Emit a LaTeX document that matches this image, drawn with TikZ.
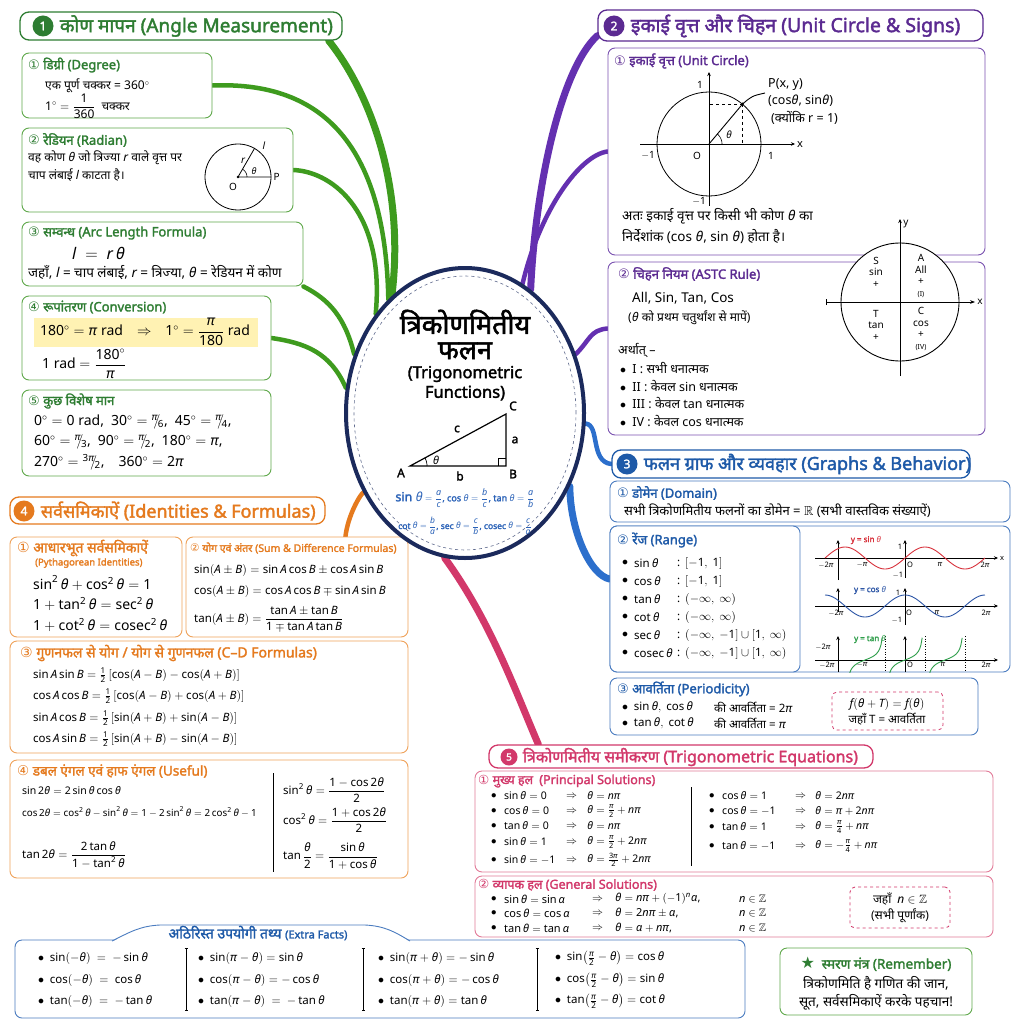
\documentclass[tikz,border=0pt]{standalone}
\usepackage{amsmath,amssymb}
\usepackage{mathspec}
\setmainfont{Noto Sans}[Script=Devanagari, AutoFakeBold=2]
\setmathsfont(Digits,Latin,Greek){Noto Sans}
\setmathrm{Noto Sans}
\newfontfamily\symfont{DejaVu Sans}
\usetikzlibrary{shapes.geometric,fit,arrows.meta,positioning,backgrounds}

\definecolor{grn}{HTML}{2E7D32}
\definecolor{grnl}{HTML}{5FA84A}
\definecolor{grnb}{HTML}{3E9B1E}
\definecolor{pur}{HTML}{5B2A91}
\definecolor{purl}{HTML}{7A52B0}
\definecolor{purb}{HTML}{6430B0}
\definecolor{blu}{HTML}{1E5AA8}
\definecolor{blul}{HTML}{4A7CC0}
\definecolor{blub}{HTML}{2C6FCC}
\definecolor{org}{HTML}{E57A1E}
\definecolor{orgl}{HTML}{EFA25A}
\definecolor{pnk}{HTML}{D2386A}
\definecolor{pnkl}{HTML}{E27A98}
\definecolor{nvy}{HTML}{1B2A5C}
\definecolor{fblu}{HTML}{2A62B8}
\definecolor{hilite}{HTML}{FFF2B3}
\definecolor{sinred}{HTML}{D8323C}
\definecolor{cosblu}{HTML}{2D56A6}
\definecolor{tangrn}{HTML}{2E9E4A}

\newcommand\cn[1]{{\mdseries\symfont #1}}
\newcommand\pif[2]{{}^{#1}\!\!/\!{}_{#2}}

\tikzset{
  titlebox/.style={draw=#1, line width=1.3pt, rounded corners=9pt, fill=white, inner sep=0pt},
  panel/.style={draw=#1, line width=0.9pt, rounded corners=7pt, fill=white, inner sep=0pt},
  badge/.style={circle, fill=#1, text=white, inner sep=0pt, minimum size=21pt, font=\bfseries\fontsize{12}{12}\selectfont},
  heading/.style={anchor=west, inner sep=0pt, font=\bfseries\fontsize{18}{20}\selectfont},
  btitle/.style={anchor=west, inner sep=0pt, font=\bfseries\fontsize{13}{15}\selectfont},
  txt/.style={anchor=west, inner sep=0pt, font=\fontsize{12}{14}\selectfont},
  eqn/.style={anchor=west, inner sep=0pt, font=\fontsize{10.5}{12}\selectfont},
  lbl/.style={inner sep=0pt, font=\fontsize{7.5}{8}\selectfont},
  limb/.style={draw=#1, line width=4.5pt, line cap=round},
  trunk/.style={draw=#1, line width=7pt, line cap=round},
  axisline/.style={line width=0.7pt, -{Stealth[length=4pt,width=3.5pt]}},
  dashbox/.style={draw=#1, dashed, line width=0.8pt, rounded corners=5pt, inner sep=0pt},
}

\begin{document}
\begin{tikzpicture}[x=1pt, y=-1pt]
\useasboundingbox (0,0) rectangle (1024,1024);

% ---------- 1 angle measurement
\node[titlebox=grn, fit={(20,12) (342,40)}] (t1) {};
\node[badge=grn] (n1) at (43,26) {1};
\node[heading, text=grn, font=\bfseries\fontsize{19}{21}\selectfont, right=6pt of n1] (h1) {कोण मापन (Angle Measurement)};

\node[panel=grnl, fit={(22,53) (212,118)}] (deg) {};
\node[btitle, text=grn] (deg-t) at (28,65) {\cn{①} डिग्री (Degree)};
\node[txt] (deg-a) at (45,86) {एक पूर्ण चक्कर = $360^\circ$};
\node[txt] (deg-b) at (45,106) {$1^\circ = \dfrac{1}{360}$\enspace चक्कर};

\node[panel=grnl, fit={(22,128) (293,212)}] (rad) {};
\node[btitle, text=grn] (rad-t) at (28,140) {\cn{②} रेडियन (Radian)};
\node[txt] (rad-a) at (28,158) {वह कोण $\theta$ जो त्रिज्या $r$ वाले वृत्त पर};
\node[txt] (rad-b) at (28,175) {चाप लंबाई $l$ काटता है।};
\node[circle, draw, minimum size=66pt, inner sep=0pt, line width=0.8pt] (rc) at (238,177) {};
\draw[line width=0.8pt] (rc.east) -- (rc.center) -- (rc.60);
\draw[line width=0.6pt] plot[domain=0:60, samples=12] ({238+9*cos(\x)}, {177-9*sin(\x)});
\fill (rc.center) circle[radius=1.3pt];
\node[lbl, font=\fontsize{10}{11}\selectfont] (rc-o) at (233,187) {O};
\node[lbl, font=\fontsize{10}{11}\selectfont, right=2pt of rc.east] (rc-p) {P};
\node[lbl, font=\fontsize{10}{11}\selectfont] (rc-r) at (243,161) {$r$};
\node[lbl, font=\fontsize{10}{11}\selectfont] (rc-l) at (264,146) {$l$};
\node[lbl, font=\fontsize{9}{10}\selectfont] (rc-th) at (254,171) {$\theta$};

\node[panel=grnl, fit={(22,222) (303,286)}] (arcl) {};
\node[btitle, text=grn] (arcl-t) at (28,233) {\cn{③} सम्वन्ध (Arc Length Formula)};
\node[txt, font=\bfseries\fontsize{16}{17}\selectfont] (arcl-f) at (72,253) {$l\ =\ r\,\theta$};
\node[txt, font=\fontsize{13.5}{15}\selectfont] (arcl-a) at (28,273) {जहाँ, $l$ = चाप लंबाई, $r$ = त्रिज्या, $\theta$ = रेडियन में कोण};

\node[panel=grnl, fit={(22,296) (271,380)}] (conv) {};
\node[btitle, text=grn] (conv-t) at (28,307) {\cn{④} रूपांतरण (Conversion)};
\node[fill=hilite, inner sep=0pt, fit={(34,318) (258,347)}] (conv-hl) {};
\node[txt, font=\fontsize{14}{16}\selectfont] (conv-a) at (40,332) {$180^\circ = \pi$ rad\quad$\Rightarrow$\quad$1^\circ = \dfrac{\pi}{180}$ rad};
\node[txt, font=\fontsize{14}{16}\selectfont] (conv-b) at (42,364) {1 rad $= \dfrac{180^\circ}{\pi}$};

\node[panel=grnl, fit={(22,390) (271,476)}] (spec) {};
\node[btitle, text=grn] (spec-t) at (28,401) {\cn{⑤} कुछ विशेष मान};
\node[txt, font=\fontsize{14}{16}\selectfont] (spec-a) at (34,422) {$0^\circ = 0$ rad,\enspace $30^\circ = \pif{\pi}{6}$,\enspace $45^\circ = \pif{\pi}{4}$,};
\node[txt, font=\fontsize{14}{16}\selectfont] (spec-b) at (34,442) {$60^\circ = \pif{\pi}{3}$,\enspace $90^\circ = \pif{\pi}{2}$,\enspace $180^\circ = \pi$,};
\node[txt, font=\fontsize{14}{16}\selectfont] (spec-c) at (34,462) {$270^\circ = \pif{3\pi}{2}$,\quad $360^\circ = 2\pi$};

% ---------- 2 unit circle and signs
\node[titlebox=pur, fit={(598,10) (983,41)}] (t2) {};
\node[badge=pur] (n2) at (614,26) {2};
\node[heading, text=pur, font=\bfseries\fontsize{19.5}{21}\selectfont, right=6pt of n2] (h2) {इकाई वृत्त और चिहन (Unit Circle \& Signs)};

\node[panel=purl, fit={(608,48) (985,255)}] (ucbox) {};
\node[btitle, text=pur] (uc-t) at (614,61) {\cn{①} इकाई वृत्त (Unit Circle)};
\node[circle, draw, minimum size=104pt, inner sep=0pt, line width=0.8pt] (uc) at (709,144) {};
\draw[axisline, line width=0.9pt] (640,144) -- (795,144);
\draw[axisline, line width=0.9pt] (709,206) -- (709,72);
\coordinate (P) at (uc.50);
\draw[dashed, line width=0.6pt] (P) -- (P -| uc.center);
\draw[dashed, line width=0.6pt] (P) -- (P |- uc.center);
\draw[line width=0.9pt] (uc.center) -- (P) .. controls (752,96) .. (765,93);
\fill (P) circle[radius=1.5pt];
\draw[line width=0.6pt] plot[domain=0:50, samples=12] ({709+13*cos(\x)}, {144-13*sin(\x)});
\node[lbl, font=\fontsize{10}{11}\selectfont] (uc-th) at (729,135) {$\theta$};
\node[lbl, font=\fontsize{10}{11}\selectfont] (uc-y1) at (700,85) {1};
\node[lbl, font=\fontsize{10}{11}\selectfont] (uc-xm) at (648,155) {$-1$};
\node[lbl, font=\fontsize{10}{11}\selectfont] (uc-o) at (697,156) {O};
\node[lbl, font=\fontsize{10}{11}\selectfont] (uc-x1) at (771,156) {1};
\node[lbl, font=\fontsize{10}{11}\selectfont] (uc-ym) at (699,201) {$-1$};
\node[lbl, font=\fontsize{11}{12}\selectfont] (uc-x) at (800,145) {x};
\node[txt, font=\fontsize{12.5}{14}\selectfont] (uc-p1) at (768,85) {P(x, y)};
\node[txt, font=\fontsize{12.5}{14}\selectfont] (uc-p2) at (768,101) {(cos$\theta$, sin$\theta$)};
\node[txt, font=\fontsize{12.5}{14}\selectfont] (uc-p3) at (771,118) {(क्योंकि r = 1)};
\node[txt, font=\fontsize{13.5}{15}\selectfont] (uc-a) at (622,216) {अतः इकाई वृत्त पर किसी भी कोण $\theta$ का};
\node[txt, font=\fontsize{13.5}{15}\selectfont] (uc-b) at (622,237) {निर्देशांक (cos $\theta$, sin $\theta$) होता है।};

\node[panel=purl, fit={(608,262) (985,435)}] (astcbox) {};
\node[btitle, text=pur] (astc-t) at (618,274) {\cn{②} चिहन नियम (ASTC Rule)};
\node[txt, font=\fontsize{13.5}{15}\selectfont] (astc-a) at (632,298) {All, Sin, Tan, Cos};
\node[txt] (astc-b) at (628,318) {($\theta$ को प्रथम चतुर्थांश से मापें)};
\node[txt, font=\fontsize{12.5}{14}\selectfont] (astc-c) at (618,350) {अर्थात् –};
\node[txt, font=\fontsize{12.5}{14}\selectfont] (astc-d) at (620,368) {$\bullet$\enspace I : सभी धनात्मक};
\node[txt, font=\fontsize{12.5}{14}\selectfont] (astc-e) at (620,386) {$\bullet$\enspace II : केवल sin धनात्मक};
\node[txt, font=\fontsize{12.5}{14}\selectfont] (astc-f) at (620,403) {$\bullet$\enspace III : केवल tan धनात्मक};
\node[txt, font=\fontsize{12.5}{14}\selectfont] (astc-g) at (620,421) {$\bullet$\enspace IV : केवल cos धनात्मक};
\node[circle, draw, fill=white, minimum size=118pt, inner sep=0pt, line width=0.9pt] (astc) at (900,302) {};
\draw[line width=0.9pt, {Bar[width=6pt]}-{Stealth[length=5pt]}] (826,302) -- (975,302);
\draw[axisline, line width=0.9pt] (900,376) -- (900,219);
\node[lbl, font=\fontsize{10}{11}\selectfont] (astc-x) at (980,302) {x};
\node[lbl, font=\fontsize{10}{11}\selectfont] (astc-y) at (906,224) {y};
\node[font=\fontsize{10}{11.5}\selectfont, align=center, inner sep=0pt] (q-s) at (876,272) {S\\sin\\+};
\node[font=\fontsize{10}{11.5}\selectfont, align=center, inner sep=0pt] (q-a) at (921,276) {A\\All\\+\\{\fontsize{7}{8}\selectfont(I)}};
\node[font=\fontsize{10}{11.5}\selectfont, align=center, inner sep=0pt] (q-t) at (876,325) {T\\tan\\+};
\node[font=\fontsize{10}{11.5}\selectfont, align=center, inner sep=0pt] (q-c) at (921,329) {C\\cos\\+\\{\fontsize{7}{8}\selectfont(IV)}};

% ---------- 3 graphs and behaviour
\node[titlebox=blu, fit={(612,450) (970,478)}] (t3) {};
\node[badge=blu] (n3) at (627,464) {3};
\node[heading, text=blu, right=6pt of n3] (h3) {फलन ग्राफ और व्यवहार (Graphs \& Behavior)};

\node[panel=blul, fit={(610,481) (1010,522)}] (dom) {};
\node[btitle, text=blu] (dom-t) at (617,493) {\cn{①} डोमेन (Domain)};
\node[txt, font=\fontsize{13}{15}\selectfont] (dom-a) at (624,511) {सभी त्रिकोणमितीय फलनों का डोमेन = $\mathbb{R}$ (सभी वास्तविक संख्याऐं)};

\node[panel=blul, fit={(610,526) (1010,672)}] (grph) {};
\node[panel=blul, fit={(610,526) (800,672)}] (rng) {};
\node[btitle, text=blu] (rng-t) at (617,540) {\cn{②} रेंज (Range)};
\foreach \i/\yy/\fn/\rg in {1/563/{$\sin\theta$}/{$[-1,\ 1]$},
    2/581/{$\cos\theta$}/{$[-1,\ 1]$},
    3/599/{$\tan\theta$}/{$(-\infty,\ \infty)$},
    4/617/{$\cot\theta$}/{$(-\infty,\ \infty)$},
    5/635/{$\sec\theta$}/{$(-\infty,\ -1] \cup [1,\ \infty)$},
    6/653/{$\operatorname{cosec}\theta$}/{$(-\infty,\ -1] \cup [1,\ \infty)$}}
{
  \node[txt, font=\fontsize{11.5}{13}\selectfont] (rg\i-d) at (622,\yy) {$\bullet$};
  \node[txt, font=\fontsize{11.5}{13}\selectfont] (rg\i-f) at (634,\yy) {\fn};
  \node[txt, font=\fontsize{11.5}{13}\selectfont] (rg\i-c) at (677,\yy) {:};
  \node[txt, font=\fontsize{11.5}{13}\selectfont] (rg\i-v) at (685,\yy) {\rg};
}

% sine graph
\draw[axisline] (815,558) -- (998,558);
\draw[axisline] (905,578) -- (905,540);
\draw[axisline] (838,580) -- (838,540);
\draw[sinred, line width=0.9pt] plot[domain=-6.2832:6.2832, samples=80] ({905+12.73*\x}, {558-11*sin(\x r)});
\node[lbl, text=sinred, font=\bfseries\fontsize{8}{9}\selectfont] (sn-l) at (866,540) {y = sin $\theta$};
\node[lbl] (sn-1) at (900,547) {1};
\node[lbl] (sn-m1) at (898,575) {$-1$};
\node[lbl] (sn-a) at (826,565) {$-2\pi$};
\node[lbl] (sn-b) at (862,565) {$-\pi$};
\node[lbl] (sn-c) at (910,565) {O};
\node[lbl] (sn-d) at (940,565) {$\pi$};
\node[lbl] (sn-e) at (985,565) {$2\pi$};
\node[lbl] (sn-x) at (1002,558) {x};

% cosine graph
\draw[axisline] (815,606) -- (998,606);
\draw[axisline] (905,625) -- (905,588);
\draw[axisline] (838,612) -- (838,588);
\draw[cosblu, line width=0.9pt] plot[domain=-6.2832:6.2832, samples=80] ({905+12.73*\x}, {606-11*cos(\x r)});
\node[lbl, text=cosblu, font=\bfseries\fontsize{8}{9}\selectfont] (cs-l) at (870,590) {y = cos $\theta$};
\node[lbl] (cs-1) at (898,593) {1};
\node[lbl] (cs-m1) at (897,620) {$-1$};
\node[lbl] (cs-a) at (836,613) {$-2\pi$};
\node[lbl] (cs-c) at (909,613) {O};
\node[lbl] (cs-d) at (937,613) {$\pi$};
\node[lbl] (cs-e) at (986,613) {$2\pi$};

% tangent graph
\draw[axisline] (815,660) -- (998,660);
\draw[axisline] (905,672) -- (905,636);
\draw[axisline] (838,672) -- (838,636);
\foreach \xa in {885,925,965}
  \draw[dotted, line width=0.6pt] (\xa,636) -- (\xa,672);
\begin{scope}
  \clip (812,634) rectangle (1000,672);
  \foreach \a/\b in {-4.49/-1.79, -1.35/1.35, 1.79/4.49}
    \draw[tangrn, line width=0.9pt] plot[domain=\a:\b, samples=30] ({905+12.73*\x}, {660-5*tan(\x r)});
\end{scope}
\node[lbl, text=tangrn, font=\bfseries\fontsize{8}{9}\selectfont] (tn-l) at (870,639) {y = tan $\theta$};
\node[lbl] (tn-a) at (823,647) {$-2\pi$};
\node[lbl] (tn-b) at (827,665) {$-2\pi$};
\node[lbl] (tn-c) at (862,665) {$-\pi$};
\node[lbl] (tn-d) at (910,665) {O};
\node[lbl] (tn-e) at (943,665) {$\pi$};
\node[lbl] (tn-f) at (986,665) {$2\pi$};

\node[panel=blul, fit={(610,678) (978,735)}] (per) {};
\node[btitle, text=blu] (per-t) at (617,689) {\cn{③} आवर्तिता (Periodicity)};
\node[txt, font=\fontsize{11.5}{13}\selectfont] (per-a) at (622,707) {$\bullet$\enspace $\sin\theta,\ \cos\theta$};
\node[txt, font=\fontsize{11.5}{13}\selectfont] (per-b) at (714,707) {की आवर्तिता = $2\pi$};
\node[txt, font=\fontsize{11.5}{13}\selectfont] (per-c) at (622,723) {$\bullet$\enspace $\tan\theta,\ \cot\theta$};
\node[txt, font=\fontsize{11.5}{13}\selectfont] (per-d) at (714,723) {की आवर्तिता = $\pi$};
\node[dashbox=pnk, fit={(832,692) (943,730)}] (per-box) {};
\node[inner sep=0pt, font=\fontsize{11.5}{13}\selectfont] (per-e) at (887,704) {$f(\theta + T) = f(\theta)$};
\node[inner sep=0pt, font=\fontsize{11.5}{13}\selectfont] (per-f) at (887,719) {जहाँ T = आवर्तिता};

% ---------- 4 identities and formulas
\node[titlebox=org, fit={(10,497) (325,524)}] (t4) {};
\node[badge=org] (n4) at (24,511) {4};
\node[heading, text=org, right=6pt of n4] (h4) {सर्वसमिकाऐं (Identities \& Formulas)};

\node[panel=orgl, fit={(10,537) (182,637)}] (pyth) {};
\node[btitle, text=org, font=\bfseries\fontsize{14}{16}\selectfont] (pyth-t) at (17,548) {\cn{①} आधारभूत सर्वसमिकाऐं};
\node[txt, text=org, font=\bfseries\fontsize{9.5}{11}\selectfont] (pyth-s) at (35,563) {(Pythagorean Identities)};
\node[txt, font=\fontsize{14}{16}\selectfont] (pyth-a) at (33,583) {$\sin^2\theta + \cos^2\theta = 1$};
\node[txt, font=\fontsize{14}{16}\selectfont] (pyth-b) at (33,604) {$1 + \tan^2\theta = \sec^2\theta$};
\node[txt, font=\fontsize{14}{16}\selectfont] (pyth-c) at (33,625) {$1 + \cot^2\theta = \operatorname{cosec}^2\theta$};

\node[panel=orgl, fit={(186,537) (408,637)}] (sd) {};
\node[btitle, text=org, font=\bfseries\fontsize{10.5}{12}\selectfont] (sd-t) at (190,548) {\cn{②} योग एवं अंतर (Sum \& Difference Formulas)};
\node[txt, font=\fontsize{11.5}{13}\selectfont] (sd-a) at (194,570) {$\sin(A \pm B) = \sin A\cos B \pm \cos A\sin B$};
\node[txt, font=\fontsize{11.5}{13}\selectfont] (sd-b) at (194,591) {$\cos(A \pm B) = \cos A\cos B \mp \sin A\sin B$};
\node[txt, font=\fontsize{11.5}{13}\selectfont] (sd-c) at (194,619) {$\tan(A \pm B) = \dfrac{\tan A \pm \tan B}{1 \mp \tan A\tan B}$};

\node[panel=orgl, fit={(10,641) (408,753)}] (cd) {};
\node[btitle, text=org, font=\bfseries\fontsize{14}{16}\selectfont] (cd-t) at (20,653) {\cn{③} गुणनफल से योग / योग से गुणनफल (C–D Formulas)};
\node[txt, font=\fontsize{11.5}{13}\selectfont] (cd-a) at (33,675) {$\sin A\sin B = \tfrac{1}{2}\,[\cos(A-B) - \cos(A+B)]$};
\node[txt, font=\fontsize{11.5}{13}\selectfont] (cd-b) at (33,696) {$\cos A\cos B = \tfrac{1}{2}\,[\cos(A-B) + \cos(A+B)]$};
\node[txt, font=\fontsize{11.5}{13}\selectfont] (cd-c) at (33,718) {$\sin A\cos B = \tfrac{1}{2}\,[\sin(A+B) + \sin(A-B)]$};
\node[txt, font=\fontsize{11.5}{13}\selectfont] (cd-d) at (33,739) {$\cos A\sin B = \tfrac{1}{2}\,[\sin(A+B) - \sin(A-B)]$};

\node[panel=orgl, fit={(10,760) (408,878)}] (dbl) {};
\node[btitle, text=org, font=\bfseries\fontsize{13.5}{15}\selectfont] (dbl-t) at (17,771) {\cn{④} डबल एंगल एवं हाफ एंगल (Useful)};
\node[txt, font=\fontsize{10.5}{12}\selectfont] (dbl-a) at (22,791) {$\sin 2\theta = 2\sin\theta\cos\theta$};
\node[txt, font=\fontsize{9.8}{12}\selectfont] (dbl-b) at (22,812) {$\cos 2\theta = \cos^2\theta - \sin^2\theta = 1 - 2\sin^2\theta = 2\cos^2\theta - 1$};
\node[txt, font=\fontsize{11.5}{13}\selectfont] (dbl-c) at (22,855) {$\tan 2\theta = \dfrac{2\tan\theta}{1 - \tan^2\theta}$};
\draw[line width=0.7pt] (273,773) -- (273,872);
\node[txt, font=\fontsize{11.5}{13}\selectfont] (dbl-d) at (283,790) {$\sin^2\theta = \dfrac{1 - \cos 2\theta}{2}$};
\node[txt, font=\fontsize{11.5}{13}\selectfont] (dbl-e) at (283,820) {$\cos^2\theta = \dfrac{1 + \cos 2\theta}{2}$};
\node[txt, font=\fontsize{11.5}{13}\selectfont] (dbl-f) at (283,856) {$\tan\dfrac{\theta}{2} = \dfrac{\sin\theta}{1 + \cos\theta}$};

% ---------- 5 trigonometric equations
\node[titlebox=pnk, fit={(489,745) (873,768)}] (t5) {};
\node[badge=pnk, minimum size=17pt, font=\bfseries\fontsize{10}{10}\selectfont] (n5) at (509,757) {5};
\node[heading, text=pnk, font=\bfseries\fontsize{16}{18}\selectfont, right=5pt of n5] (h5) {त्रिकोणमितीय समीकरण (Trigonometric Equations)};

\node[panel=pnkl, fit={(475,771) (993,872)}] (prin) {};
\node[btitle, text=pnk, font=\bfseries\fontsize{12.5}{14}\selectfont] (prin-t) at (478,781) {\cn{①} मुख्य हल\enspace (Principal Solutions)};
\foreach \i/\yy/\lhs/\rhs in {1/796/{$\sin\theta = 0$}/{$\theta = n\pi$},
    2/811/{$\cos\theta = 0$}/{$\theta = \frac{\pi}{2} + n\pi$},
    3/826/{$\tan\theta = 0$}/{$\theta = n\pi$},
    4/842/{$\sin\theta = 1$}/{$\theta = \frac{\pi}{2} + 2n\pi$},
    5/860/{$\sin\theta = -1$}/{$\theta = \frac{3\pi}{2} + 2n\pi$}}
{
  \node[eqn] (pl\i-d) at (491,\yy) {$\bullet$};
  \node[eqn] (pl\i-l) at (504,\yy) {\lhs};
  \node[eqn] (pl\i-a) at (566,\yy) {$\Rightarrow$};
  \node[eqn] (pl\i-r) at (587,\yy) {\rhs};
}
\draw[line width=0.6pt] (691,787) -- (691,866);
\foreach \i/\yy/\lhs/\rhs in {1/796/{$\cos\theta = 1$}/{$\theta = 2n\pi$},
    2/811/{$\cos\theta = -1$}/{$\theta = \pi + 2n\pi$},
    3/827/{$\tan\theta = 1$}/{$\theta = \frac{\pi}{4} + n\pi$},
    4/846/{$\tan\theta = -1$}/{$\theta = -\frac{\pi}{4} + n\pi$}}
{
  \node[eqn] (pr\i-d) at (709,\yy) {$\bullet$};
  \node[eqn] (pr\i-l) at (722,\yy) {\lhs};
  \node[eqn] (pr\i-a) at (795,\yy) {$\Rightarrow$};
  \node[eqn] (pr\i-r) at (815,\yy) {\rhs};
}

\node[panel=pnkl, fit={(475,876) (993,937)}] (gen) {};
\node[btitle, text=pnk, font=\bfseries\fontsize{12.5}{14}\selectfont] (gen-t) at (478,885) {\cn{②} व्यापक हल (General Solutions)};
\foreach \i/\yy/\lhs/\rhs in {1/899/{$\sin\theta = \sin\alpha$}/{$\theta = n\pi + (-1)^n\alpha$,},
    2/913/{$\cos\theta = \cos\alpha$}/{$\theta = 2n\pi \pm \alpha$,},
    3/928/{$\tan\theta = \tan\alpha$}/{$\theta = \alpha + n\pi$,}}
{
  \node[eqn, font=\fontsize{11}{12}\selectfont] (gs\i-d) at (491,\yy) {$\bullet$};
  \node[eqn, font=\fontsize{11}{12}\selectfont] (gs\i-l) at (504,\yy) {\lhs};
  \node[eqn, font=\fontsize{11}{12}\selectfont] (gs\i-a) at (592,\yy) {$\Rightarrow$};
  \node[eqn, font=\fontsize{11}{12}\selectfont] (gs\i-r) at (615,\yy) {\rhs};
  \node[eqn, font=\fontsize{11}{12}\selectfont] (gs\i-n) at (739,\yy) {$n \in \mathbb{Z}$};
}
\node[dashbox=pnk, fit={(850,887) (950,928)}] (gen-box) {};
\node[inner sep=0pt, font=\fontsize{12}{14}\selectfont] (gen-a) at (900,899) {जहाँ\enspace $n \in \mathbb{Z}$};
\node[inner sep=0pt, font=\fontsize{12}{14}\selectfont] (gen-b) at (900,916) {(सभी पूर्णांक)};

% ---------- extra facts
\node[panel=blul, fit={(15,940) (745,1018)}] (xf) {};
\fill[white] (112,942) .. controls (130,932) and (140,926) .. (160,925) -- (365,925) .. controls (385,926) and (395,932) .. (410,942) -- cycle;
\draw[blul, line width=0.9pt] (112,941) .. controls (130,932) and (140,926) .. (160,925) -- (365,925) .. controls (385,926) and (395,932) .. (410,941);
\node[inner sep=0pt, text=blu, font=\bfseries\fontsize{14}{16}\selectfont] (xf-t) at (258,933) {अठिरिस्त उपयोगी तथ्य {\fontsize{11}{12}\selectfont (Extra Facts)}};
\foreach \xa in {186,363,537}
  \draw[line width=0.5pt, {Bar[width=3pt]}-{Bar[width=3pt]}] (\xa,948) -- (\xa,1010);
\node[txt, font=\fontsize{11.5}{13}\selectfont] (xf-a1) at (38,958) {$\bullet$\enspace $\sin(-\theta)\ =\ -\sin\theta$};
\node[txt, font=\fontsize{11.5}{13}\selectfont] (xf-a2) at (38,980) {$\bullet$\enspace $\cos(-\theta)\ =\ \cos\theta$};
\node[txt, font=\fontsize{11.5}{13}\selectfont] (xf-a3) at (38,1001) {$\bullet$\enspace $\tan(-\theta)\ =\ -\tan\theta$};
\node[txt, font=\fontsize{11.5}{13}\selectfont] (xf-b1) at (198,958) {$\bullet$\enspace $\sin(\pi-\theta) = \sin\theta$};
\node[txt, font=\fontsize{11.5}{13}\selectfont] (xf-b2) at (198,980) {$\bullet$\enspace $\cos(\pi-\theta) = -\cos\theta$};
\node[txt, font=\fontsize{11.5}{13}\selectfont] (xf-b3) at (198,1001) {$\bullet$\enspace $\tan(\pi-\theta)\ =\ -\tan\theta$};
\node[txt, font=\fontsize{11.5}{13}\selectfont] (xf-c1) at (378,958) {$\bullet$\enspace $\sin(\pi+\theta) = -\sin\theta$};
\node[txt, font=\fontsize{11.5}{13}\selectfont] (xf-c2) at (378,980) {$\bullet$\enspace $\cos(\pi+\theta) = -\cos\theta$};
\node[txt, font=\fontsize{11.5}{13}\selectfont] (xf-c3) at (378,1001) {$\bullet$\enspace $\tan(\pi+\theta) = \tan\theta$};
\node[txt, font=\fontsize{11.5}{13}\selectfont] (xf-d1) at (555,958) {$\bullet$\enspace $\sin\!\left(\tfrac{\pi}{2}-\theta\right) = \cos\theta$};
\node[txt, font=\fontsize{11.5}{13}\selectfont] (xf-d2) at (555,980) {$\bullet$\enspace $\cos\!\left(\tfrac{\pi}{2}-\theta\right) = \sin\theta$};
\node[txt, font=\fontsize{11.5}{13}\selectfont] (xf-d3) at (555,1001) {$\bullet$\enspace $\tan\!\left(\tfrac{\pi}{2}-\theta\right) = \cot\theta$};

% ---------- remember
\node[panel=grnl, fit={(780,948) (972,1015)}] (mem) {};
\node[inner sep=0pt, text=grn, font=\bfseries\fontsize{13.5}{15}\selectfont] (mem-t) at (876,964) {{\fontsize{16}{16}\selectfont\cn{★}}\enspace स्मरण मंत्र (Remember)};
\node[inner sep=0pt, font=\fontsize{13.5}{15}\selectfont] (mem-a) at (876,983) {त्रिकोणमिति है गणित की जान,};
\node[inner sep=0pt, font=\fontsize{13.5}{15}\selectfont] (mem-b) at (876,1002) {सूत, सर्वसमिकाऐं करके पहचान!};

% ---------- centre
\node[ellipse, draw=nvy, line width=4pt, fill=white, minimum width=238pt, minimum height=290pt, inner sep=0pt] (core) at (465,413) {};
\node[ellipse, draw=nvy!70, dashed, line width=0.6pt, minimum width=222pt, minimum height=274pt, inner sep=0pt] (core-in) at (465,413) {};
\node[inner sep=0pt, font=\bfseries\fontsize{27}{29}\selectfont] (c-hi1) at (465,322) {त्रिकोणमितीय};
\node[inner sep=0pt, font=\bfseries\fontsize{27}{29}\selectfont] (c-hi2) at (465,351) {फलन};
\node[inner sep=0pt, font=\bfseries\fontsize{16.5}{18}\selectfont] (c-en1) at (465,374) {(Trigonometric};
\node[inner sep=0pt, font=\bfseries\fontsize{16.5}{18}\selectfont] (c-en2) at (465,393) {Functions)};
\coordinate (A) at (410,466);
\coordinate (B) at (506,466);
\coordinate (C) at (506,414);
\draw[line width=1.2pt] (A) -- (B) -- (C) -- cycle;
\draw[line width=0.8pt] (498,466) -- (498,458) -- (506,458);
\draw[line width=0.7pt] plot[domain=0:28, samples=8] ({410+17*cos(\x)}, {466-17*sin(\x)});
\node[inner sep=0pt, font=\bfseries\fontsize{12}{13}\selectfont] (c-A) at (401,473) {A};
\node[inner sep=0pt, font=\bfseries\fontsize{12}{13}\selectfont] (c-B) at (513,474) {B};
\node[inner sep=0pt, font=\bfseries\fontsize{12}{13}\selectfont] (c-C) at (513,406) {C};
\node[inner sep=0pt, font=\bfseries\fontsize{12}{13}\selectfont] (c-c) at (457,429) {c};
\node[inner sep=0pt, font=\bfseries\fontsize{12}{13}\selectfont] (c-a) at (515,440) {a};
\node[inner sep=0pt, font=\bfseries\fontsize{12}{13}\selectfont] (c-b) at (460,476) {b};
\node[inner sep=0pt, font=\fontsize{11}{12}\selectfont] (c-th) at (436,460) {$\theta$};
\node[inner sep=0pt, text=fblu, font=\bfseries\fontsize{9}{11}\selectfont] (c-f1) at (465,498) {{\fontsize{12.5}{13}\selectfont sin $\theta$} $= \dfrac{a}{c}$, cos $\theta = \dfrac{b}{c}$, tan $\theta = \dfrac{a}{b}$};
\node[inner sep=0pt, text=fblu, font=\bfseries\fontsize{8.5}{11}\selectfont] (c-f2) at (465,526) {cot $\theta = \dfrac{b}{a}$, sec $\theta = \dfrac{c}{b}$, cosec $\theta = \dfrac{c}{a}$};

% ---------- branches
\begin{scope}[on background layer]
\fill[white] (0,0) rectangle (1024,1024);
\draw[trunk=grnb] (core.122) .. controls (405,190) and (372,95) .. ([xshift=-14pt]t1.south east);
\draw[limb=grnb] (deg.east) .. controls (300,82) and (385,120) .. (core.124);
\draw[limb=grnb] (rad.east) .. controls (335,172) and (385,215) .. (core.132);
\draw[limb=grnb] (arcl.south east) .. controls (330,300) and (345,318) .. (core.152);
\draw[limb=grnb] (conv.east) .. controls (305,343) and (330,352) .. (core.168);
\draw[trunk=purb] (core.62) .. controls (535,190) and (560,70) .. ([yshift=6pt]t2.south west);
\draw[limb=purb] (ucbox.west) .. controls (580,155) and (540,210) .. (core.66);
\draw[limb=purb] ([yshift=20pt]astcbox.west) .. controls (590,330) and (590,340) .. (core.28);
\draw[limb=blub] (t3.west) .. controls (590,462) and (600,425) .. (core.-5);
\draw[trunk=blub] ([yshift=20pt]rng.west) .. controls (590,575) and (570,530) .. (core.-35);
\draw[limb=org] ([xshift=-63pt]sd.north east) .. controls (348,515) and (360,495) .. (core.218);
\draw[trunk=pnk] ([xshift=50pt]t5.north west) .. controls (515,690) and (490,620) .. (core.-98);
\end{scope}
\end{tikzpicture}
\end{document}
